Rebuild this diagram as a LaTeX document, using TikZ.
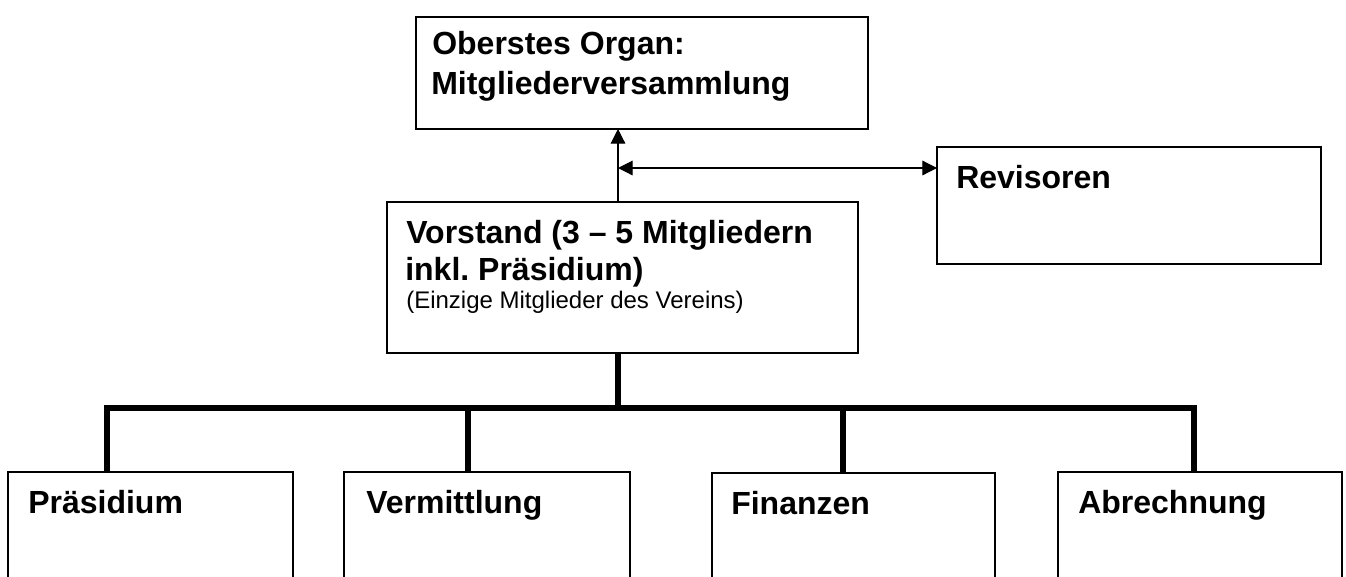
\documentclass[tikz,border=0pt]{standalone}
\usepackage{fontspec}
\setmainfont{Liberation Sans}
\usetikzlibrary{arrows.meta}
\frenchspacing
\tikzset{
  box/.style={draw, line width=1.1pt, anchor=north west, inner sep=0pt, outer sep=0pt},
  big/.style={font=\bfseries\fontsize{24}{28}\selectfont, anchor=base west, inner sep=0pt},
  small/.style={font=\fontsize{18}{21}\selectfont, anchor=base west, inner sep=0pt},
  thinline/.style={line width=0.9pt},
  barline/.style={line width=3.8pt, line join=miter},
  tri/.tip={Triangle[length=11pt,width=11pt]}
}
\begin{document}
\begin{tikzpicture}[x=0.75pt,y=-0.75pt]
\clip (0,0) rectangle (1346,576);
\fill[white] (0,0) rectangle (1346,576);
% boxes
\node[box, minimum width=339pt, minimum height=84pt] (mv) at (416,17) {};
\node[box, minimum width=288pt, minimum height=87.75pt] (rev) at (937,147) {};
\node[box, minimum width=353.25pt, minimum height=113.25pt] (vor) at (387,202) {};
\node[box, minimum width=213.75pt, minimum height=112.5pt] (prae) at (8,472) {};
\node[box, minimum width=214.5pt, minimum height=112.5pt] (verm) at (344,472) {};
\node[box, minimum width=212.25pt, minimum height=112.5pt] (fin) at (712,473) {};
\node[box, minimum width=213pt, minimum height=112.5pt] (abr) at (1058,472) {};
% texts
\node[big] (t1) at (432,54) {Oberstes Organ:};
\node[big] (t2) at (431,94) {Mitgliederversammlung};
\node[big] (t3) at (956,188) {Revisoren};
\node[big] (t4) at (406,243) {Vorstand (3 – 5 Mitgliedern};
\node[big] (t5) at (405,280) {inkl. Präsidium)};
\node[small] (t6) at (406,308) {(Einzige Mitglieder des Vereins)};
\node[big] (t7) at (28,513) {Präsidium};
\node[big] (t8) at (366,513) {Vermittlung};
\node[big] (t9) at (731,514) {Finanzen};
\node[big] (t10) at (1078,513) {Abrechnung};
% connectors
\coordinate (c) at (618,168);
\draw[thinline, -tri] (c |- vor.north) -- (c |- mv.south);
\draw[thinline, tri-tri] (c) -- (c -| rev.west);
\coordinate (j) at (618,408);
\coordinate (bp) at (107,408);
\coordinate (bv) at (468,408);
\coordinate (bf) at (843,408);
\coordinate (ba) at (1194,408);
\draw[barline] (j |- vor.south) -- (j);
\draw[barline] (bp |- prae.north) -- (bp) -- (ba) -- (ba |- abr.north);
\draw[barline] (bv) -- (bv |- verm.north);
\draw[barline] (bf) -- (bf |- fin.north);
\end{tikzpicture}
\end{document}
